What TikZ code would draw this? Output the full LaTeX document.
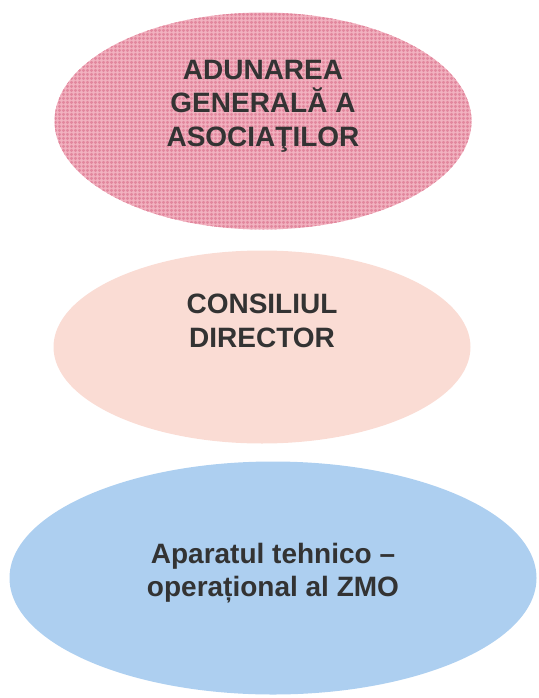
\documentclass[tikz,border=0pt]{standalone}
\usepackage{fontspec}
\setmainfont{Liberation Sans}
\usepackage{tikz}
\usetikzlibrary{shapes.geometric,patterns.meta}
\usepackage{xcolor}

\definecolor{agaPink}{HTML}{F2B2C0}
\definecolor{agaMesh}{HTML}{E2889E}
\definecolor{cdPeach}{HTML}{FADCD4}
\definecolor{atoBlue}{HTML}{ADCFF0}
\definecolor{txtGray}{HTML}{333333}

\begin{document}
\begin{tikzpicture}[x=1pt,y=1pt,
	blob/.style={ellipse,inner sep=0pt,draw=none},
	lbl/.style={align=center,text=txtGray,font=\bfseries\fontsize{28}{33.6}\selectfont}]
		
		\useasboundingbox (0,0) rectangle (538,-698);
		
		%----------------------------------------
		% Ellipse centres
		%----------------------------------------
		\coordinate (C1) at (263,-121);
		\coordinate (C2) at (262,-347);
		\coordinate (C3) at (273,-578);
		
		%----------------------------------------
		% Adunarea generala
		%----------------------------------------
		\node[blob,minimum width=417,minimum height=217,
		preaction={fill=agaPink},
		pattern={Hatch[distance=4pt,line width=1.6pt]},pattern color=agaMesh]
		(aga) at (C1) {};
		\node[lbl] (agaText) at ([yshift=15]aga.center)
		{ADUNAREA\\GENERALĂ A\\ASOCIAŢILOR};
		
		%----------------------------------------
		% Consiliul director
		%----------------------------------------
		\node[blob,fill=cdPeach,minimum width=417,minimum height=193]
		(cd) at (C2) {};
		\node[lbl] (cdText) at ([yshift=26]cd.center)
		{CONSILIUL\\DIRECTOR};
		
		%----------------------------------------
		% Aparatul tehnic
		%----------------------------------------
		\node[blob,fill=atoBlue,minimum width=527,minimum height=233]
		(ato) at (C3) {};
		\node[lbl] (atoText) at ([yshift=5]ato.center)
		{Aparatul tehnico –\\operațional al ZMO};
		
	\end{tikzpicture}
\end{document}
